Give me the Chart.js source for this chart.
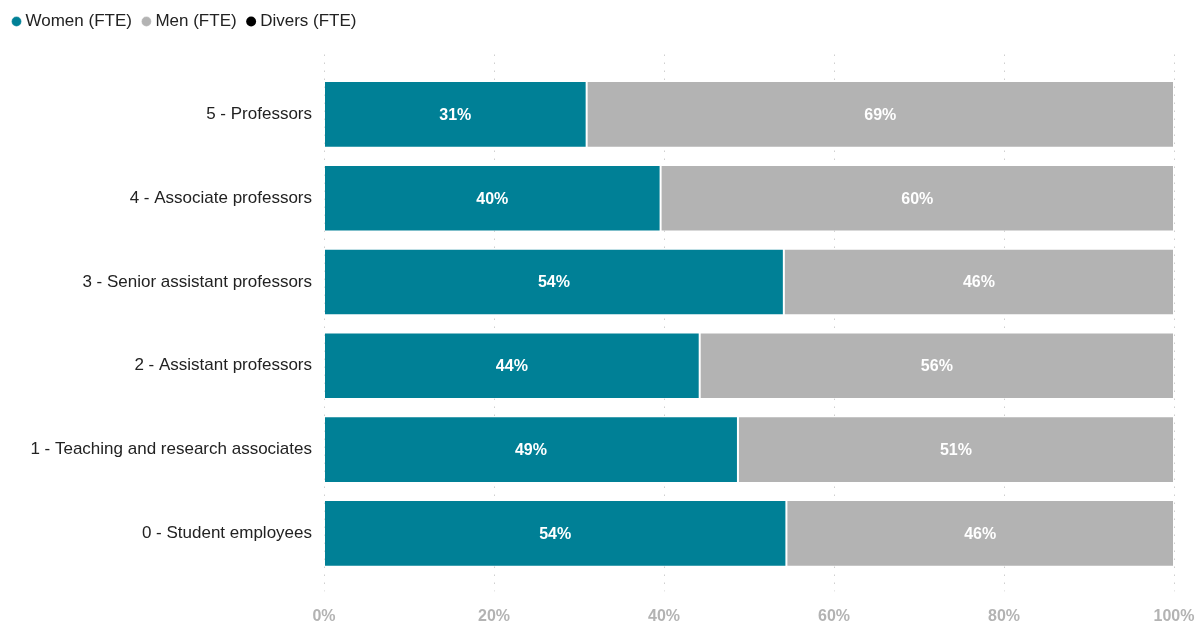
<!DOCTYPE html>
<html>
<head>
<meta charset="utf-8">
<script src="https://cdn.jsdelivr.net/npm/chart.js@4/dist/chart.umd.min.js"></script>
<style>
	html, body { margin: 0; padding: 0; background: #fff; }
	#wrap { width: 1204px; height: 621px; }
</style>
</head>
<body>
<div id="wrap"><canvas id="chart-1"></canvas></div>
<script>
const categories = [
	"5 - Professors",
	"4 - Associate professors",
	"3 - Senior assistant professors",
	"2 - Assistant professors",
	"1 - Teaching and research associates",
	"0 - Student employees"
];
const women = [30.9, 39.6, 54.1, 44.2, 48.7, 54.4];
const men = [69.1, 60.4, 45.9, 55.8, 51.3, 45.6];
const divers = [0, 0, 0, 0, 0, 0];
const xTicks = [0, 20, 40, 60, 80, 100];

const fontFamily = "'Liberation Sans', Arial, sans-serif";

// white percentage labels in the middle of each bar
const barLabels = {
	id: "barLabels",
	afterDatasetsDraw(chart) {
		const ctx = chart.ctx;
		ctx.save();
		ctx.fillStyle = "#fff";
		ctx.font = "bold 16px " + fontFamily;
		ctx.textAlign = "center";
		ctx.textBaseline = "middle";
		chart.data.datasets.forEach((ds, i) => {
			const meta = chart.getDatasetMeta(i);
			meta.data.forEach((bar, j) => {
				const v = ds.data[j];
				if (!v) return;
				const p = bar.getProps(["x", "y", "base"], true);
				ctx.fillText(Math.round(v) + "%", (p.x + p.base) / 2, p.y + 1);
			});
		});
		ctx.restore();
	}
};

// dotted vertical gridlines, a bit longer than the plot area
const dottedGrid = {
	id: "dottedGrid",
	beforeDatasetsDraw(chart) {
		const ctx = chart.ctx;
		const area = chart.chartArea;
		const x = chart.scales.x;
		ctx.save();
		ctx.strokeStyle = "#cfcfcf";
		ctx.lineWidth = 1;
		ctx.setLineDash([1.5, 6.5]);
		for (const t of xTicks) {
			const px = Math.round(x.getPixelForValue(t)) + 0.5;
			ctx.beginPath();
			ctx.moveTo(px, area.top - 18);
			ctx.lineTo(px, area.bottom + 16);
			ctx.stroke();
		}
		ctx.restore();
	}
};

// extra room under the legend
const legendGap = {
	id: "legendGap",
	beforeInit(chart) {
		const fit = chart.legend.fit;
		chart.legend.fit = function () {
			fit.call(this);
			this.height += 32.5;
		};
	}
};

const padLeft = 2;

new Chart("chart-1", {
	type: "bar",
	data: {
		labels: categories,
		datasets: [
			{label: "Women (FTE)", data: women, backgroundColor: "#008096", borderColor: "rgba(255,255,255,0.35)", borderWidth: 1, borderSkipped: false},
			{label: "Men (FTE)", data: men, backgroundColor: "#b3b3b3", borderColor: "rgba(255,255,255,0.35)", borderWidth: 1, borderSkipped: false},
			{label: "Divers (FTE)", data: divers, backgroundColor: "#000", borderWidth: 0}
		]
	},
	plugins: [legendGap, dottedGrid, barLabels],
	options: {
		indexAxis: "y",
		responsive: true,
		maintainAspectRatio: false,
		animation: false,
		layout: {padding: {top: -1, right: 30, bottom: -29.5, left: padLeft}},
		datasets: {bar: {categoryPercentage: 1, barPercentage: 0.795}},
		scales: {
			x: {
				stacked: true,
				min: 0,
				max: 100,
				afterBuildTicks: (scale) => { scale.ticks = xTicks.map(v => ({value: v})); },
				afterFit: (scale) => { scale.paddingLeft = 0; scale.paddingRight = 0; },
				grid: {display: false},
				border: {display: false},
				ticks: {
					padding: 24,
					color: "#b3b3b3",
					font: {family: fontFamily, size: 16, weight: "bold"},
					callback: (v) => v + "%"
				}
			},
			y: {
				stacked: true,
				grid: {display: false},
				border: {display: false},
				afterFit: (scale) => { scale.width = 324 - padLeft; },
				ticks: {
					padding: 4,
					color: "#222",
					font: {family: fontFamily, size: 17}
				}
			}
		},
		plugins: {
			legend: {
				position: "top",
				align: "start",
				labels: {
					usePointStyle: true,
					pointStyle: "circle",
					boxWidth: 1,
					boxHeight: 7,
					padding: 14,
					color: "#222",
					font: {family: fontFamily, size: 17}
				}
			},
			tooltip: {enabled: false}
		}
	}
});
</script>
</body>
</html>
